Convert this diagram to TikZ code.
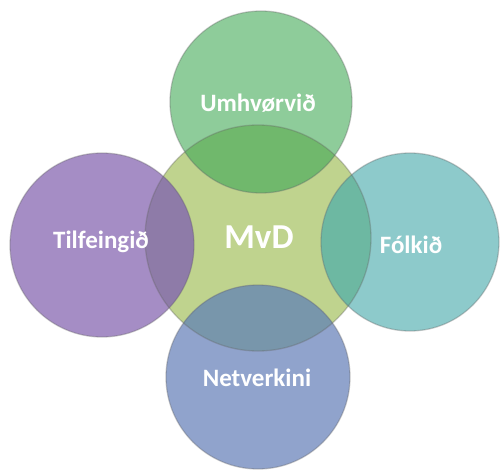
\documentclass[tikz,border=0pt]{standalone}
\usepackage{fontspec}
\setmainfont{Carlito}
\usepackage{tikz}

\definecolor{midcol}{HTML}{BFD38E}
\definecolor{topcol}{HTML}{8ECC9A}
\definecolor{topmix}{HTML}{70B86C}
\definecolor{leftcol}{HTML}{A58DC5}
\definecolor{leftmix}{HTML}{8E7BA8}
\definecolor{rightcol}{HTML}{8DCACB}
\definecolor{rightmix}{HTML}{6DB8A2}
\definecolor{botcol}{HTML}{90A3CC}
\definecolor{botmix}{HTML}{7896AB}

\begin{document}
\begin{tikzpicture}[x=1pt, y=-1pt,
  rim/.style={draw=black!60, draw opacity=0.35, line width=1.3pt},
  word/.style={anchor=base, text=white, font=\bfseries\fontsize{25}{25}\selectfont}]
\useasboundingbox (0,0) rectangle (500,470);

\fill [midcol] (258,238) circle [radius=113];

\fill [topcol] (261,102) circle [radius=91];
\begin{scope}
\clip (261,102) circle [radius=91];
\fill [topmix] (258,238) circle [radius=113];
\end{scope}

\fill [leftcol] (102,245) circle [radius=92];
\begin{scope}
\clip (102,245) circle [radius=92];
\fill [leftmix] (258,238) circle [radius=113];
\end{scope}

\fill [rightcol] (410,242) circle [radius=89];
\begin{scope}
\clip (410,242) circle [radius=89];
\fill [rightmix] (258,238) circle [radius=113];
\end{scope}

\fill [botcol] (258,377) circle [radius=92];
\begin{scope}
\clip (258,377) circle [radius=92];
\fill [botmix] (258,238) circle [radius=113];
\end{scope}

\draw [rim] (258,238) circle [radius=113];
\draw [rim] (261,102) circle [radius=91];
\draw [rim] (102,245) circle [radius=92];
\draw [rim] (410,242) circle [radius=89];
\draw [rim] (258,377) circle [radius=92];

\node [word] (umhv) at (258,112) {Umhvørvið};
\node [word] (tilf) at (101,248) {Tilfeingið};
\node [word] (folk) at (411,253) {Fólkið};
\node [word] (netv) at (257,386) {Netverkini};
\node [word, font=\bfseries\fontsize{35}{35}\selectfont] (mvd) at (259,248) {MvD};
\end{tikzpicture}
\end{document}
